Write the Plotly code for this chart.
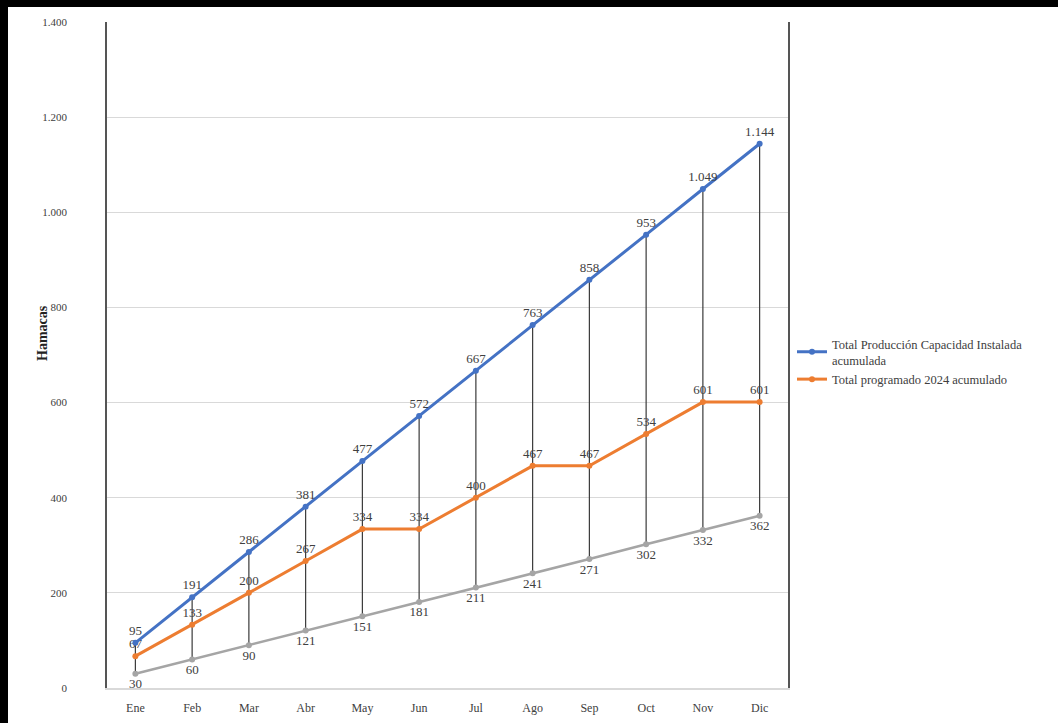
import plotly.graph_objects as go

meses = ["Ene", "Feb", "Mar", "Abr", "May", "Jun", "Jul", "Ago", "Sep", "Oct", "Nov", "Dic"]
capacidad = [95, 191, 286, 381, 477, 572, 667, 763, 858, 953, 1049, 1144]
programado = [67, 133, 200, 267, 334, 334, 400, 467, 467, 534, 601, 601]
base = [30, 60, 90, 121, 151, 181, 211, 241, 271, 302, 332, 362]

y_ticks = [0, 200, 400, 600, 800, 1000, 1200, 1400]


def fmt(v):
    return f"{v:,}".replace(",", ".")


FONT = "Liberation Serif"
TXT = "#404040"

fig = go.Figure()

# high-low (drop) lines
dx, dy = [], []
for m, hi, lo in zip(meses, capacidad, base):
    dx += [m, m, None]
    dy += [hi, lo, None]
fig.add_trace(go.Scatter(x=dx, y=dy, mode="lines", line=dict(color="#3a3a3a", width=1.2),
                         showlegend=False, hoverinfo="skip"))

fig.add_trace(go.Scatter(x=meses, y=base, mode="lines+markers+text", name="base",
                         line=dict(color="#A5A5A5", width=2.6), marker=dict(size=6, color="#A5A5A5"),
                         text=[fmt(v) for v in base], textposition="bottom center",
                         textfont=dict(family=FONT, size=13, color=TXT), showlegend=False))

fig.add_trace(go.Scatter(x=meses, y=programado, mode="lines+markers+text",
                         name="Total programado 2024 acumulado",
                         line=dict(color="#ED7D31", width=3), marker=dict(size=6, color="#ED7D31"),
                         text=[fmt(v) for v in programado], textposition="top center",
                         textfont=dict(family=FONT, size=13, color=TXT)))

fig.add_trace(go.Scatter(x=meses, y=capacidad, mode="lines+markers+text",
                         name="Total Producción Capacidad Instalada<br>acumulada",
                         line=dict(color="#4472C4", width=3), marker=dict(size=6, color="#4472C4"),
                         text=[fmt(v) for v in capacidad], textposition="top center",
                         textfont=dict(family=FONT, size=13, color=TXT)))

W, H = 1058, 723
L, R, T, B = 107, 270, 22, 35
pw, ph = W - L - R, H - T - B


def px_x(p):
    return (p - L) / pw


def px_y(p):
    return (H - B - p) / ph


fig.update_layout(
    width=W, height=H,
    margin=dict(l=L, r=R, t=T, b=B, pad=0, autoexpand=False),
    paper_bgcolor="white", plot_bgcolor="white",
    font=dict(family=FONT, size=12, color=TXT),
    legend=dict(x=px_x(792), y=px_y(329), xanchor="left", yanchor="top",
                traceorder="reversed", font=dict(family=FONT, size=12.5, color=TXT),
                bgcolor="rgba(0,0,0,0)", tracegroupgap=2),
    xaxis=dict(type="category", range=[-0.5, 11.5], showgrid=False, automargin=False,
               showline=True, linecolor="#D9D9D9", linewidth=1.5,
               tickfont=dict(family=FONT, size=12, color=TXT), ticks="", ticklabelstandoff=8),
    yaxis=dict(range=[0, 1400], tickvals=y_ticks, ticktext=[fmt(v) for v in y_ticks],
               showgrid=True, gridcolor="#D9D9D9", gridwidth=1, automargin=False,
               showline=True, linecolor="#555555", linewidth=1.8, mirror=True,
               zeroline=False, ticks="",
               tickfont=dict(family=FONT, size=11, color=TXT), ticklabelstandoff=36),
    annotations=[dict(text="<b>Hamacas</b>", textangle=-90, xref="paper", yref="paper",
                      x=px_x(42), y=px_y(333), xanchor="center", yanchor="middle", showarrow=False,
                      font=dict(family=FONT, size=14, color="#222222"))],
    shapes=[
        dict(type="rect", xref="paper", yref="paper", x0=px_x(0), x1=px_x(8), y0=px_y(723), y1=px_y(0),
             fillcolor="black", line=dict(width=0), layer="above"),
        dict(type="rect", xref="paper", yref="paper", x0=px_x(0), x1=px_x(1058), y0=px_y(7), y1=px_y(0),
             fillcolor="black", line=dict(width=0), layer="above"),
    ],
)

fig.write_html("out.html", config={"displayModeBar": False},
               post_script="document.body.style.margin='0';document.body.style.overflow='hidden';")
